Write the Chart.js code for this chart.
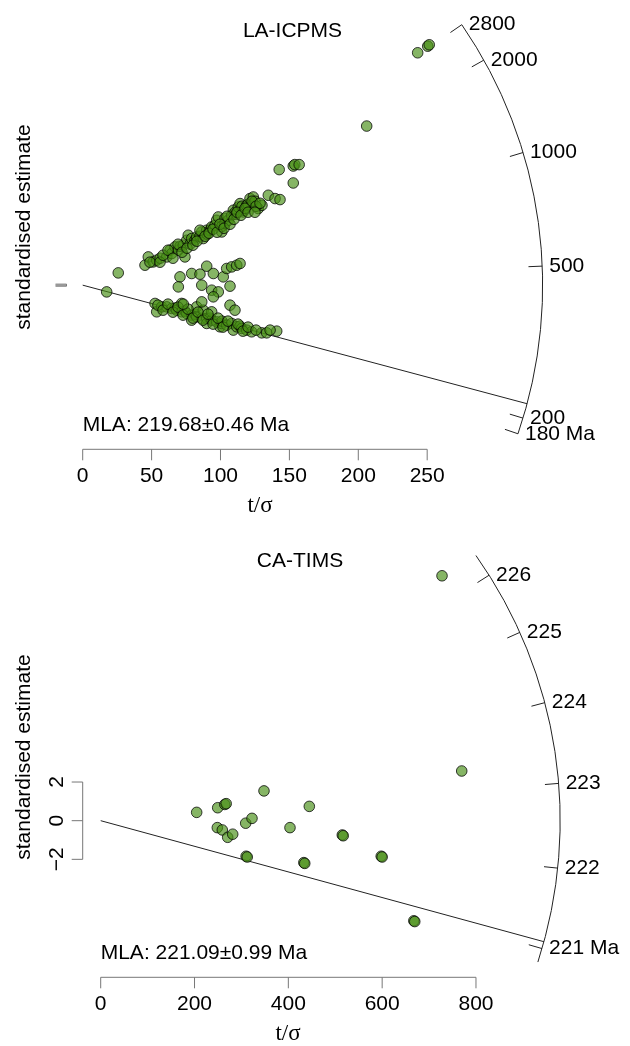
<!DOCTYPE html>
<html>
<head>
<meta charset="utf-8">
<script src="https://cdn.jsdelivr.net/npm/chart.js@4.4.1/dist/chart.umd.min.js"></script>
<style>
  body { margin: 0; background: #fff; }
  .panel { position: relative; width: 630px; height: 523px; }
  canvas { display: block; }
</style>
</head>
<body>
<div class="panel"><canvas id="la" width="630" height="523"></canvas></div>
<div class="panel"><canvas id="ca" width="630" height="523"></canvas></div>
<script>
// ---- LA-ICPMS: t/sigma (x) and standardised estimate (y) ----
const laOutX = [250.4, 251.5, 243.1, 206.1, 152.8, 153.9, 157.1, 142.6, 152.8, 25.8, 17.4];
const laOutY = [462.8, 465.5, 450.0, 308.1, 230.7, 233.5, 233.4, 223.8, 197.9, 23.8, -13.0];

const laUpX = [45.2, 47.6, 51.2, 53.7, 56.2, 61.0, 63.4, 64.6, 67.0, 69.4, 70.7, 73.0, 74.2, 75.5,
  76.6, 77.9, 79.1, 81.5, 82.7, 85.1, 86.4, 87.5, 90.0, 90.3, 92.4, 93.6, 96.0, 97.2, 98.4, 100.9,
  101.1, 103.3, 103.3, 105.7, 108.1, 109.3, 110.6, 111.3, 112.9, 114.2, 115.6, 116.5, 117.1, 119.0,
  120.0, 121.4, 123.8, 123.8, 125.1, 127.4, 130.1, 134.7, 139.6, 143.2,
  48.8, 56.1, 58.3, 61.9, 65.5, 69.2, 72.1, 75.7, 80.0, 82.9, 85.1, 88.8, 91.7, 94.6,
  97.5, 99.6, 102.6, 104.7, 106.9, 109.8, 112.0, 114.9, 117.8, 120.0, 122.9, 125.8, 128.7, 125.0];
const laUpY = [38.7, 54.7, 45.1, 48.4, 52.2, 54.7, 67.7, 61.3, 74.1, 67.7, 75.4, 77.4, 54.7, 87.0,
  96.7, 79.3, 90.3, 87.0, 93.4, 94.8, 103.1, 90.3, 106.4, 98.6, 106.4, 112.8, 116.0, 125.7, 132.1, 103.1,
  114.1, 119.3, 129.6, 125.7, 135.4, 145.1, 141.2, 137.3, 151.4, 158.0, 152.8, 141.8, 145.1, 154.7,
  156.7, 167.7, 158.0, 170.8, 162.5, 148.3, 154.7, 174.1, 167.7, 165.7,
  44.5, 44.5, 58.0, 67.7, 52.2, 79.3, 63.8, 71.6, 77.4, 85.1, 106.4, 94.8, 100.6, 108.3,
  102.5, 118.0, 110.2, 133.4, 118.0, 127.6, 141.2, 135.4, 148.9, 141.2, 162.5, 152.8, 158.6, 141.2];

const laMidX = [70.6, 69.4, 79.1, 85.1, 90.0, 94.8, 102.0, 104.5, 108.1, 111.8, 114.2, 86.4, 93.6,
  98.4, 106.9, 94.8, 86.4, 73.0, 106.9, 110.5];
const laMidY = [16.1, -3.3, 22.6, 21.3, 36.7, 22.6, 16.1, 32.3, 35.4, 38.7, 42.0, 0.0, -9.7,
  -13.0, -1.9, -22.6, -32.3, -36.7, -38.7, -48.4];

const laLowX = [52.5, 53.7, 57.3, 61.0, 64.6, 67.0, 68.2, 71.8, 71.8, 74.2, 75.5, 79.1, 79.1, 81.5,
  82.7, 82.7, 86.4, 87.5, 90.0, 90.0, 92.4, 93.6, 93.6, 97.2, 99.6, 100.9, 101.1, 104.5, 108.1, 109.3,
  111.8, 114.2, 115.4, 119.0, 122.6, 129.9, 133.5, 140.8,
  54.6, 58.3, 61.9, 65.5, 69.2, 72.8, 76.4, 80.0, 83.7, 87.3, 90.9, 94.6, 98.2, 101.8,
  105.4, 112.7, 116.3, 120.0, 125.8, 136.0];
const laLowY = [-35.4, -51.6, -42.0, -42.0, -45.1, -44.5, -48.4, -51.6, -35.4, -50.3, -54.7, -58.0, -67.7, -56.1,
  -61.3, -42.0, -64.4, -48.4, -64.4, -74.1, -63.8, -67.7, -51.6, -71.0, -80.6, -74.1, -69.6, -77.4, -74.1, -87.0,
  -80.6, -79.3, -83.7, -87.0, -90.3, -92.3, -92.3, -89.0,
  -38.7, -48.4, -36.7, -52.2, -42.5, -58.0, -46.4, -63.8, -52.2, -67.7, -56.1, -75.4, -63.8, -81.2,
  -69.6, -75.4, -89.0, -81.2, -87.0, -87.0];

const laTicks = [0, 50, 100, 150, 200, 250];
const laAges = [180, 200, 500, 1000, 2000, 2800];

// ---- CA-TIMS ----
const caX = [204.6, 249.4, 264.5, 267.5, 348.1, 444.7, 248.6, 259.2, 270.7, 281.4, 309.1, 322.5,
  310.0, 312.4, 403.5, 433.0, 435.0, 515.0, 517.0, 598.0, 600.0, 667.5, 669.5, 769.6, 727.6];
const caY = [0.43, 0.67, 0.84, 0.88, 1.54, 0.74, -0.36, -0.48, -0.86, -0.70, -0.13, 0.12,
  -1.84, -1.88, -0.36, -2.17, -2.21, -0.74, -0.78, -1.84, -1.88, -5.18, -5.22, 2.57, 12.67];

const caTicks = [0, 200, 400, 600, 800];
const caAges = [221, 222, 223, 224, 225, 226];
const caYTicks = [-2, 0, 2];

const SANS = '"Liberation Sans", Arial, Helvetica, sans-serif';
const FILL = 'rgba(72,142,22,0.66)';
const EDGE = 'rgba(0,0,0,0.75)';

function pts(xs, ys) {
  return xs.map((x, i) => ({ x: x, y: ys[i] }));
}

// radial plot furniture: arc, age ticks, central line, axes, texts
const radialPlugin = {
  id: 'radial',
  beforeDatasetsDraw(chart, args, o) {
    const ctx = chart.ctx, xs = chart.scales.x, ys = chart.scales.y;
    const ox = xs.getPixelForValue(0), oy = ys.getPixelForValue(0);
    const kx = xs.getPixelForValue(1) - ox;
    const ky = oy - ys.getPixelForValue(1);
    const rpx = o.radius * kx;
    const ang = t => Math.atan2((Math.log(t) - o.z0) * ky, kx);

    ctx.save();
    ctx.strokeStyle = '#222';
    ctx.lineWidth = 1;

    // arc
    ctx.beginPath();
    ctx.arc(ox, oy, rpx, -ang(o.maxAge), -ang(o.minAge));
    ctx.stroke();

    // central age line
    const a0 = ang(o.central);
    ctx.beginPath();
    ctx.moveTo(ox, oy);
    ctx.lineTo(ox + rpx * Math.cos(a0), oy - rpx * Math.sin(a0));
    ctx.stroke();

    // age ticks + labels
    ctx.font = '21px ' + SANS;
    ctx.fillStyle = '#000';
    ctx.textAlign = 'left';
    ctx.textBaseline = 'middle';
    o.ages.forEach((t, i) => {
      const a = ang(t), c = Math.cos(a), s = Math.sin(a);
      ctx.beginPath();
      ctx.moveTo(ox + rpx * c, oy - rpx * s);
      ctx.lineTo(ox + 0.97 * rpx * c, oy - 0.97 * rpx * s);
      ctx.stroke();
      const lab = i === 0 ? t + ' Ma' : String(t);
      ctx.fillText(lab, ox + rpx * c + 7, oy - rpx * s);
    });

    // x axis (t/sigma)
    ctx.strokeStyle = '#777';
    const x0 = xs.getPixelForValue(o.xTicks[0]);
    const x1 = xs.getPixelForValue(o.xTicks[o.xTicks.length - 1]);
    ctx.beginPath();
    ctx.moveTo(x0, o.axisY);
    ctx.lineTo(x1, o.axisY);
    o.xTicks.forEach(v => {
      const px = xs.getPixelForValue(v);
      ctx.moveTo(px, o.axisY);
      ctx.lineTo(px, o.axisY + 11);
    });
    ctx.stroke();
    ctx.textAlign = 'center';
    o.xTicks.forEach(v => ctx.fillText(String(v), xs.getPixelForValue(v), o.axisY + 27));
    ctx.font = '23px "Liberation Serif", "Times New Roman", serif';
    ctx.fillText('t/\u03c3', o.xLabelX, o.axisY + 57);

    // y axis (-2, 0, 2)
    const yTop = ys.getPixelForValue(o.yTicks[o.yTicks.length - 1]);
    const yBot = ys.getPixelForValue(o.yTicks[0]);
    ctx.beginPath();
    ctx.moveTo(o.yAxisX, yTop);
    ctx.lineTo(o.yAxisX, yBot);
    o.yTicks.forEach(v => {
      const py = ys.getPixelForValue(v);
      ctx.moveTo(o.yAxisX, py);
      ctx.lineTo(o.yAxisX - 11, py);
    });
    ctx.stroke();
    ctx.font = '21px ' + SANS;
    if (o.yLabels) {
      o.yTicks.forEach(v => {
        ctx.save();
        ctx.translate(o.yAxisX - 25, ys.getPixelForValue(v));
        ctx.rotate(-Math.PI / 2);
        ctx.fillText(v < 0 ? '\u2212' + Math.abs(v) : String(v), 0, 0);
        ctx.restore();
      });
    }

    // y title
    ctx.save();
    ctx.translate(24, o.yTitleY);
    ctx.rotate(-Math.PI / 2);
    ctx.fillText('standardised estimate', 0, 0);
    ctx.restore();

    // title and MLA
    ctx.fillText(o.title, o.titleX, o.titleY);
    ctx.textAlign = 'left';
    ctx.fillText(o.mla, ox, o.mlaY);
    ctx.restore();
  }
};

function makeChart(id, sets, scales, pad, opts) {
  return new Chart(document.getElementById(id), {
    type: 'scatter',
    data: {
      datasets: sets.map(s => ({
        data: s,
        pointRadius: 5.3,
        pointHoverRadius: 5.3,
        pointBackgroundColor: FILL,
        pointBorderColor: EDGE,
        pointBorderWidth: 1,
        clip: false
      }))
    },
    options: {
      responsive: false,
      devicePixelRatio: 1,
      animation: false,
      layout: { padding: pad },
      scales: {
        x: { type: 'linear', min: scales[0], max: scales[1], display: false },
        y: { type: 'linear', min: scales[2], max: scales[3], display: false }
      },
      plugins: {
        legend: { display: false },
        tooltip: { enabled: false },
        radial: opts
      }
    },
    plugins: [radialPlugin]
  });
}

makeChart('la',
  [pts(laUpX, laUpY), pts(laMidX, laMidY), pts(laLowX, laLowY), pts(laOutX, laOutY)],
  [0, 340, -300, 540],
  { left: 82.7, right: 78.8, top: 5.8, bottom: 82.9 },
  {
    z0: 6.104, radius: 333.8, minAge: 180, maxAge: 2800, central: 219.68,
    ages: laAges, xTicks: laTicks, yTicks: [-2, 0, 2], yLabels: false,
    axisY: 449.3, xLabelX: 260, yAxisX: 66.5, yTitleY: 227,
    title: 'LA-ICPMS', titleX: 292.5, titleY: 31.7,
    mla: 'MLA: 219.68\u00b10.46 Ma', mlaY: 425
  });

makeChart('ca',
  [pts(caX, caY)],
  [0, 1000, -8, 15],
  { left: 100.7, right: 60.2, top: 7.75, bottom: 70.7 },
  {
    z0: Math.log(222.56), radius: 979.5, minAge: 220.82, maxAge: 226.41, central: 221.09,
    ages: caAges, xTicks: caTicks, yTicks: caYTicks, yLabels: true,
    axisY: 454.3, xLabelX: 288, yAxisX: 82.7, yTitleY: 234,
    title: 'CA-TIMS', titleX: 300, titleY: 38.7,
    mla: 'MLA: 221.09\u00b10.99 Ma', mlaY: 430.3
  });
</script>
</body>
</html>
